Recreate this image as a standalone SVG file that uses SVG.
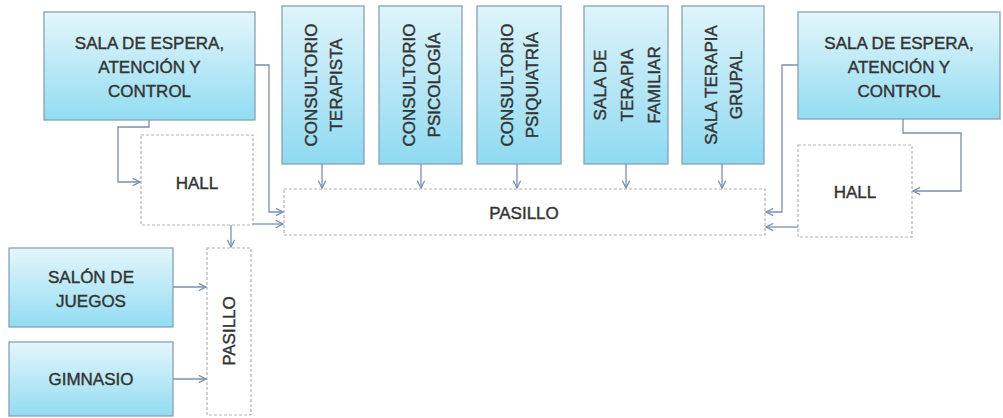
<svg xmlns="http://www.w3.org/2000/svg" width="1003" height="418" viewBox="0 0 1003 418">
<defs>
<linearGradient id="g" x1="0" y1="0" x2="0" y2="1">
<stop offset="0" stop-color="#e4f6fc"/>
<stop offset="1" stop-color="#92dcf2"/>
</linearGradient>
<linearGradient id="gv" x1="0" y1="0" x2="0" y2="1">
<stop offset="0" stop-color="#dff4fb"/>
<stop offset="1" stop-color="#8fdaf1"/>
</linearGradient>
<marker id="ah" viewBox="0 0 10 10" refX="9" refY="5" markerWidth="9" markerHeight="9" markerUnits="userSpaceOnUse" orient="auto">
<path d="M1,1 L9,5 L1,9" fill="none" stroke="#7a8fb0" stroke-width="1.4"/>
</marker>
</defs>
<style>
.b{fill:url(#g);stroke:#86a2b4;stroke-width:1.3}
.bv{fill:url(#gv);stroke:#86a2b4;stroke-width:1.3}
.d{fill:#fff;stroke:#b4b4b4;stroke-width:1.2;stroke-dasharray:3 2}
.t{font-family:"Liberation Sans",Arial,sans-serif;font-size:17px;fill:#333;stroke:#333;stroke-width:0.4;text-anchor:middle}
.c{fill:none;stroke:#7a8fb0;stroke-width:1.3;marker-end:url(#ah)}
</style>
<rect width="1003" height="418" fill="#fff"/>

<g id="sala-izq"><rect class="b" x="44" y="12" width="211" height="108"/>
<text class="t" x="149.5" y="49">SALA DE ESPERA,</text>
<text class="t" x="149.5" y="73">ATENCIÓN Y</text>
<text class="t" x="149.5" y="97">CONTROL</text></g>

<g id="sala-der"><rect class="b" x="798" y="12" width="202" height="107"/>
<text class="t" x="899" y="49">SALA DE ESPERA,</text>
<text class="t" x="899" y="73">ATENCIÓN Y</text>
<text class="t" x="899" y="97">CONTROL</text></g>

<g id="c-terapista"><rect class="bv" x="282" y="6" width="82" height="158"/>
<g transform="translate(323,85) rotate(-90)"><text class="t" x="0" y="-6">CONSULTORIO</text><text class="t" x="0" y="19">TERAPISTA</text></g></g>

<g id="c-psicologia"><rect class="bv" x="379" y="6" width="83" height="158"/>
<g transform="translate(420.5,85) rotate(-90)"><text class="t" x="0" y="-6">CONSULTORIO</text><text class="t" x="0" y="19">PSICOLOGÍA</text></g></g>

<g id="c-psiquiatria"><rect class="bv" x="477" y="6" width="84" height="158"/>
<g transform="translate(519,85) rotate(-90)"><text class="t" x="0" y="-6">CONSULTORIO</text><text class="t" x="0" y="19">PSIQUIATRÍA</text></g></g>

<g id="s-familiar"><rect class="bv" x="584" y="6" width="84" height="158"/>
<g transform="translate(626,85) rotate(-90)"><text class="t" x="0" y="-20">SALA DE</text><text class="t" x="0" y="7">TERAPIA</text><text class="t" x="0" y="34">FAMILIAR</text></g></g>

<g id="s-grupal"><rect class="bv" x="682" y="6" width="82" height="158"/>
<g transform="translate(723,85) rotate(-90)"><text class="t" x="0" y="-6">SALA TERAPIA</text><text class="t" x="0" y="19">GRUPAL</text></g></g>

<g id="hall-izq"><rect class="d" x="141" y="135" width="112" height="90"/>
<text class="t" x="197" y="189">HALL</text></g>

<g id="hall-der"><rect class="d" x="798" y="145" width="114" height="92"/>
<text class="t" x="855" y="198">HALL</text></g>

<g id="pasillo-h"><rect class="d" x="284" y="189" width="481" height="46"/>
<text class="t" x="524" y="219">PASILLO</text></g>

<g id="pasillo-v"><rect class="d" x="207" y="248" width="44" height="167"/>
<g transform="translate(229,331) rotate(-90)"><text class="t" x="0" y="6">PASILLO</text></g></g>

<g id="salon"><rect class="b" x="9" y="248" width="164" height="79"/>
<text class="t" x="91" y="283">SALÓN DE</text>
<text class="t" x="91" y="307">JUEGOS</text></g>

<g id="gimnasio"><rect class="b" x="9" y="342" width="164" height="74"/>
<text class="t" x="91" y="385">GIMNASIO</text></g>

<g id="connectors">
<path class="c" d="M255,65 H269 V212 H283"/>
<path class="c" d="M149,120 V127 H118 V182 H140"/>
<path class="c" d="M253,224 H283"/>
<path class="c" d="M231,225 V247"/>
<path class="c" d="M322,164 V188"/>
<path class="c" d="M421,164 V188"/>
<path class="c" d="M517,164 V188"/>
<path class="c" d="M626,164 V188"/>
<path class="c" d="M722,164 V188"/>
<path class="c" d="M798,65 H782 V212 H766"/>
<path class="c" d="M903,119 V133 H961 V191 H913"/>
<path class="c" d="M798,227 H766"/>
<path class="c" d="M173,287 H206"/>
<path class="c" d="M173,379 H206"/>
</g>
</svg>
